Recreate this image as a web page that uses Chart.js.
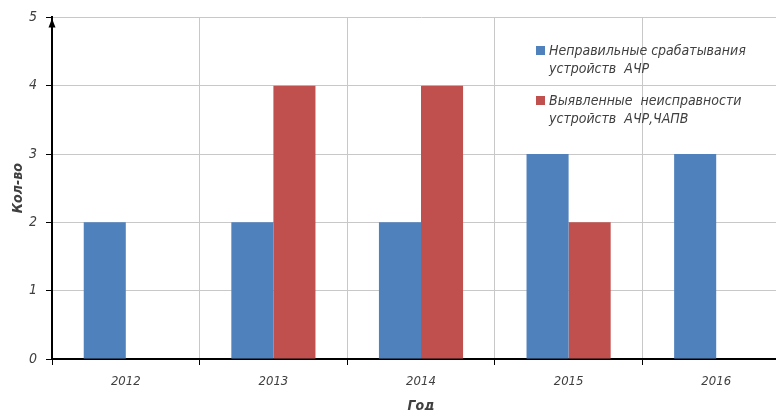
<!DOCTYPE html>
<html>
<head>
<meta charset="utf-8">
<script src="https://cdn.jsdelivr.net/npm/chart.js@4.4.1/dist/chart.umd.min.js"></script>
<style>
  html, body { margin: 0; padding: 0; background: #fff; overflow: hidden; }
  #wrap { width: 790px; height: 410px; }
</style>
</head>
<body>
<div id="wrap"><canvas id="grafico"></canvas></div>
<script>
// Datos del gráfico
const anios = ['2012', '2013', '2014', '2015', '2016'];
const srabatyvaniya = [2, 2, 2, 3, 3];
const neispravnosti = [null, 4, 4, 2, null];
const serie1Lineas = ['Неправильные срабатывания', 'устройств  АЧР'];
const serie2Lineas = ['Выявленные  неисправности', 'устройств  АЧР,ЧАПВ'];
const ticksY = [0, 1, 2, 3, 4, 5];

const fuente = "'Liberation Sans Narrow', 'DejaVu Sans Condensed', 'Arial Narrow', sans-serif";
const colorTexto = '#404040';

// Leyenda dibujada a mano (texto en dos líneas)
const leyendaPlugin = {
  id: 'leyendaManual',
  afterDraw(chart) {
    const ctx = chart.ctx;
    ctx.save();
    ctx.font = 'italic 14px ' + fuente;
    ctx.fillStyle = colorTexto;
    ctx.textBaseline = 'middle';
    const items = [
      { color: chart.data.datasets[0].backgroundColor, lineas: serie1Lineas, y: 51 },
      { color: chart.data.datasets[1].backgroundColor, lineas: serie2Lineas, y: 101 }
    ];
    items.forEach(it => {
      ctx.fillStyle = it.color;
      ctx.fillRect(536, it.y - 5, 9, 9);
      ctx.fillStyle = colorTexto;
      it.lineas.forEach((l, i) => ctx.fillText(l, 549, it.y + i * 18));
    });
    // flecha del eje Y
    const x = chart.scales.y.right;
    const top = chart.chartArea.top;
    ctx.fillStyle = '#000';
    ctx.beginPath();
    ctx.moveTo(x, top + 1);
    ctx.lineTo(x - 3.5, top + 10);
    ctx.lineTo(x + 3.5, top + 10);
    ctx.closePath();
    ctx.fill();
    ctx.restore();
  }
};

new Chart(document.getElementById('grafico'), {
  type: 'bar',
  data: {
    labels: anios,
    datasets: [
      { label: serie1Lineas.join(' '), data: srabatyvaniya, backgroundColor: '#4F81BD' },
      { label: serie2Lineas.join(' '), data: neispravnosti, backgroundColor: '#C0504D' }
    ]
  },
  options: {
    responsive: true,
    maintainAspectRatio: false,
    animation: false,
    categoryPercentage: 0.57,
    barPercentage: 1.0,
    layout: { padding: { top: 17, right: 0, left: 0, bottom: 0 } },
    plugins: {
      legend: { display: false },
      tooltip: { enabled: false }
    },
    scales: {
      x: {
        afterFit(s) { s.height = 51; },
        grid: { color: '#c8c8c8', tickColor: '#000', tickLength: 6, offset: true },
        border: { color: '#000', width: 2 },
        ticks: { color: colorTexto, padding: 9, font: { family: fuente, size: 13, style: 'italic' } },
        title: {
          display: true, text: 'Год', color: colorTexto,
          padding: { top: 0, bottom: -3 },
          font: { family: fuente, size: 14, style: 'italic', weight: 'bold', lineHeight: 1 }
        }
      },
      y: {
        min: 0, max: 5,
        afterFit(s) { s.width = 52; },
        afterBuildTicks(s) { s.ticks = ticksY.map(v => ({ value: v })); },
        grid: { color: '#c8c8c8', tickColor: '#000', tickLength: 6 },
        border: { color: '#000', width: 2 },
        ticks: { color: colorTexto, padding: 9, font: { family: fuente, size: 14, style: 'italic' } },
        title: {
          display: true, text: 'Кол-во', color: colorTexto,
          padding: { top: 11, bottom: 0 },
          font: { family: fuente, size: 14, style: 'italic', weight: 'bold', lineHeight: 1 }
        }
      }
    }
  },
  plugins: [leyendaPlugin]
});
</script>
</body>
</html>
